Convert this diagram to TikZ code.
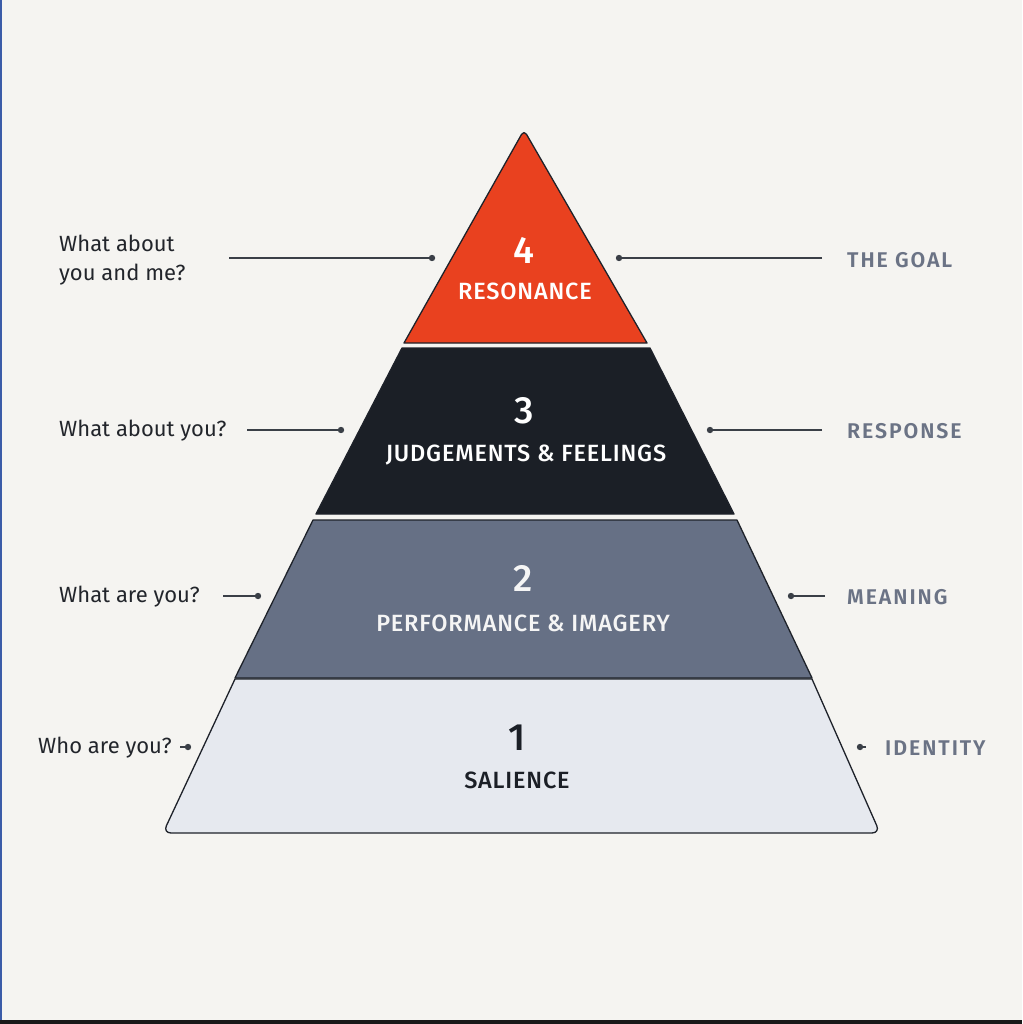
\documentclass[tikz,border=0pt]{standalone}
\usepackage{fontspec}
\setmainfont{Fira Sans}[BoldFont={Fira Sans SemiBold}]
\newfontfamily\medfont{Fira Sans Medium}
\definecolor{bg}{HTML}{F5F4F1}
\definecolor{redt}{HTML}{E9411F}
\definecolor{blackt}{HTML}{1B1F26}
\definecolor{slatet}{HTML}{667085}
\definecolor{lightt}{HTML}{E6E9EF}
\definecolor{edge}{HTML}{1E222A}
\definecolor{linec}{HTML}{3A3F47}
\definecolor{sidec}{HTML}{6B7385}
\definecolor{qtext}{HTML}{22252B}
\definecolor{leftstrip}{HTML}{3B5CA8}
\begin{document}
\begin{tikzpicture}[x=1pt,y=-1pt,
  tier/.style={draw=edge,line width=1.3pt,line join=round},
  num/.style={font=\fontsize{38}{40}\selectfont\medfont},
  tname/.style={font=\fontsize{23.5}{26}\selectfont\medfont\addfontfeature{LetterSpace=3.5}},
  question/.style={anchor=west,text=qtext,font=\fontsize{22}{29.5}\selectfont,align=left,inner sep=0pt},
  side/.style={anchor=west,text=sidec,font=\fontsize{21.3}{24}\selectfont\bfseries\addfontfeature{LetterSpace=9},inner sep=0pt},
  conn/.style={draw=linec,line width=1.4pt},
  dot/.style={fill=linec,draw=none}
]
\useasboundingbox (0,0) rectangle (1022,1024);
\fill[bg] (0,0) rectangle (1022,1024);
\fill[leftstrip] (0,0) rectangle (2,1024);
\fill[black!90] (0,1020) rectangle (1022,1024);

% tiers
\filldraw[tier,fill=lightt] (235,679) -- (812,679) [rounded corners=8] -- (880,833) -- (163,833) [sharp corners] -- cycle;
\filldraw[tier,fill=slatet] (313,520) -- (737,520) -- (812,678) -- (235,678) -- cycle;
\filldraw[tier,fill=blackt] (402,348) -- (650,348) -- (734,514) -- (316,514) -- cycle;
\filldraw[tier,fill=redt] (404,343) [rounded corners=5] -- (524,130) [sharp corners] -- (647,343) -- cycle;

% tier texts
\node[num,text=white] (n4) at (524,250) {4};
\node[tname,text=white] (t4) at (525,291) {RESONANCE};
\node[num,text=white] (n3) at (524,411) {3};
\node[tname,text=white] (t3) at (526,455) {JUDGEMENTS \& FEELINGS};
\node[num,text=white!96!black] (n2) at (523,578) {2};
\node[tname,text=white!96!black] (t2) at (523,623) {PERFORMANCE \& IMAGERY};
\node[num,text=blackt] (n1) at (517,738) {1};
\node[tname,text=blackt] (t1) at (517,780) {SALIENCE};

% left questions
\node[question] (q4) at (59,260) {What about\\you and me?};
\node[question] (q3) at (59,431) {What about you?};
\node[question] (q2) at (59,597) {What are you?};
\node[question] (q1) at (38,748) {Who are you?};

% right labels
\node[side] (s4) at (847,260) {THE GOAL};
\node[side] (s3) at (847,431) {RESPONSE};
\node[side] (s2) at (847,597) {MEANING};
\node[side] (s1) at (885,748) {IDENTITY};

% connector coordinates
\coordinate (lq4) at (229,258); \coordinate (dq4) at (432,258);
\coordinate (lq3) at (247,430); \coordinate (dq3) at (341,430);
\coordinate (lq2) at (223,596); \coordinate (dq2) at (258,596);
\coordinate (lq1) at (180,747); \coordinate (dq1) at (188,747);
\coordinate (ls4) at (822,258); \coordinate (ds4) at (619,258);
\coordinate (ls3) at (822,430); \coordinate (ds3) at (710,430);
\coordinate (ls2) at (825,596); \coordinate (ds2) at (791,596);
\coordinate (ls1) at (866,747); \coordinate (ds1) at (860,747);

\foreach \a/\b in {lq4/dq4,lq3/dq3,lq2/dq2,lq1/dq1,ls4/ds4,ls3/ds3,ls2/ds2,ls1/ds1}{
  \draw[conn] (\a) -- (\b);
  \fill[dot] (\b) circle (3.2);
}
\end{tikzpicture}
\end{document}
